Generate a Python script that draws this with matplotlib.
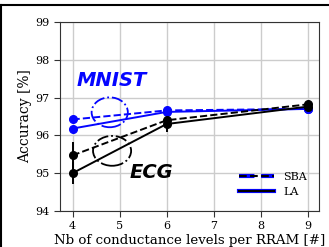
import numpy as np
import matplotlib
matplotlib.use('Agg')
import matplotlib.pyplot as plt
from matplotlib.patches import Ellipse
from matplotlib.lines import Line2D

# data
levels = [4, 6, 9]
mnist_sba = [96.42, 96.66, 96.70]
mnist_la = [96.18, 96.62, 96.70]
ecg_sba = [95.47, 96.40, 96.82]
ecg_la = [95.00, 96.30, 96.76]
ecg_sba_err = [0.36, 0.10, 0.05]
ecg_la_err = [0.30, 0.20, 0.05]

blue = '#0505ff'

fig = plt.figure(figsize=(3.29, 2.47), dpi=100)
ax = fig.add_axes([0.182, 0.146, 0.789, 0.765])

ax.errorbar(levels, ecg_sba, yerr=ecg_sba_err, color='k', ls='--', marker='o', ms=5.5, lw=1.4)
ax.errorbar(levels, ecg_la, yerr=ecg_la_err, color='k', ls='-', marker='o', ms=5.5, lw=1.4)
ax.plot(levels, mnist_sba, color=blue, ls='--', marker='o', ms=5.5, lw=1.4)
ax.plot(levels, mnist_la, color=blue, ls='-', marker='o', ms=5.5, lw=1.4)

# dash-dot ellipses marking the two groups
ax.add_patch(Ellipse((4.79, 96.61), 0.77, 0.79, fill=False, ls='-.', color=blue, lw=1.3))
ax.add_patch(Ellipse((4.84, 95.59), 0.81, 0.79, fill=False, ls='-.', color='k', lw=1.3))

ax.text(4.08, 97.45, 'MNIST', color=blue, fontsize=14, fontweight='bold', style='italic', va='center')
ax.text(5.22, 95.03, 'ECG', color='k', fontsize=14, fontweight='bold', style='italic', va='center')

ax.set_xlim(3.73, 9.25)
ax.set_ylim(94, 99)
ax.set_xticks([4, 5, 6, 7, 8, 9])
ax.set_yticks([94, 95, 96, 97, 98, 99])
ax.grid(True, color='#cccccc', lw=1)
ax.set_axisbelow(True)
for lab in ax.get_xticklabels() + ax.get_yticklabels():
    lab.set_family('DejaVu Serif')
    lab.set_fontsize(8)
ax.tick_params(length=4, color='#333333')
for s in ax.spines.values():
    s.set_color('#333333')

ax.set_xlabel('Nb of conductance levels per RRAM [#]', family='DejaVu Serif', fontsize=9.6, labelpad=2)
ax.set_ylabel('Accuracy [%]', family='DejaVu Serif', fontsize=10, labelpad=2)

h_sba = (Line2D([], [], color=blue, ls='--', lw=3), Line2D([], [], color='k', ls='--', lw=1.5))
h_la = (Line2D([], [], color=blue, ls='-', lw=3), Line2D([], [], color='k', ls='-', lw=1.5))
ax.legend([h_sba, h_la], ['SBA', 'LA'], loc='lower right', frameon=False,
          prop={'family': 'DejaVu Serif', 'size': 8}, handlelength=3.2,
          bbox_to_anchor=(0.99, 0.02))

# outer frame of the original figure
fig.add_artist(Line2D([0, 1], [0.98, 0.98], color='k', lw=1.5, transform=fig.transFigure))
fig.add_artist(Line2D([0.002, 0.002], [0, 0.98], color='k', lw=1.5, transform=fig.transFigure))

fig.savefig('out.png', dpi=100)
